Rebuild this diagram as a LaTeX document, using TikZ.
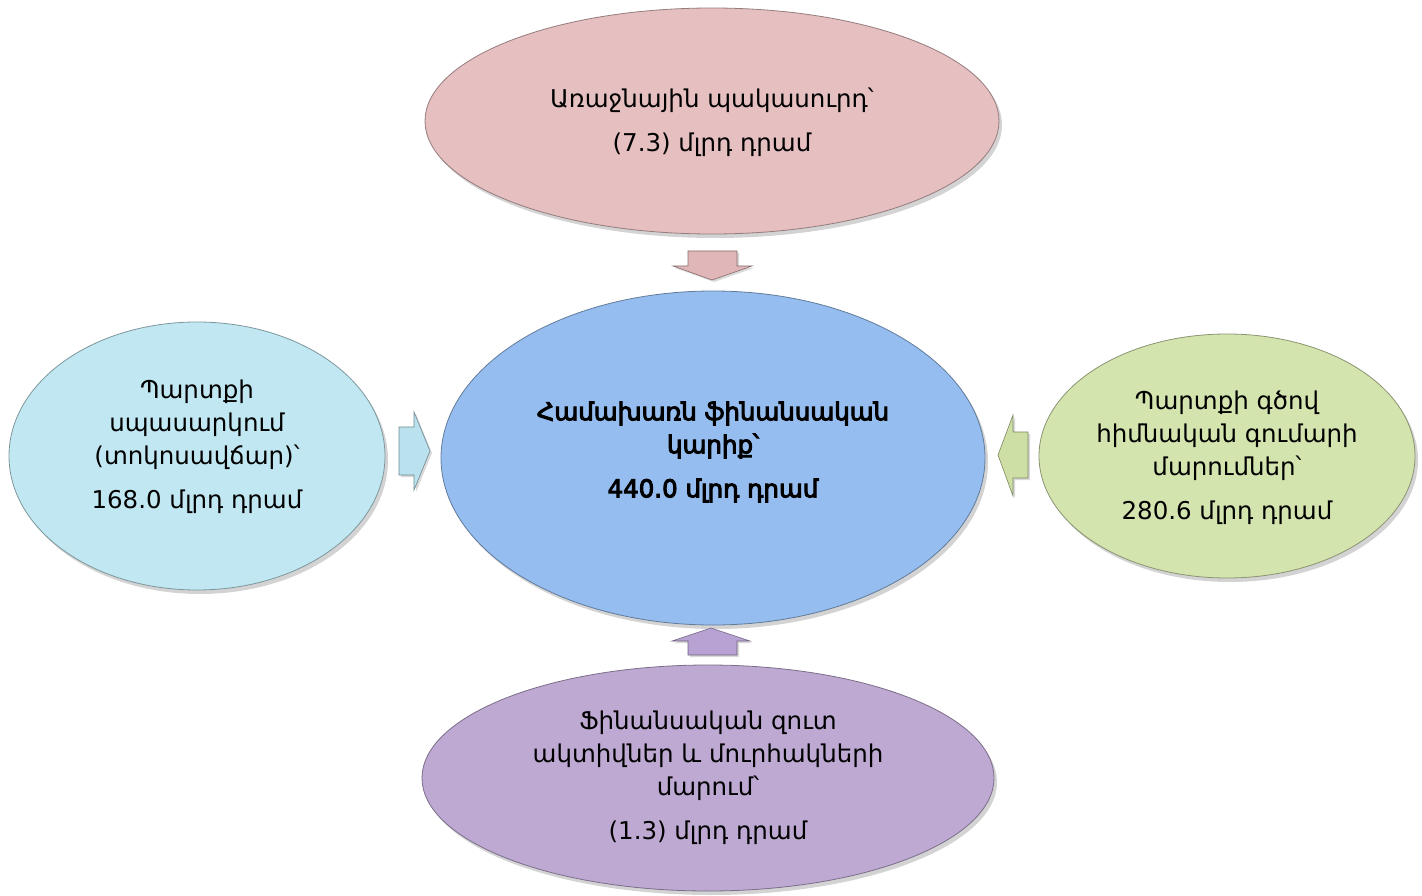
\documentclass[tikz,border=0pt]{standalone}
\usepackage{fontspec}
\setmainfont{DejaVu Sans}
\newfontfamily\armbold{DejaVu Sans}[FakeBold=4]
\usetikzlibrary{shapes.geometric,shadows}
\definecolor{cpink}{HTML}{E6BFC1}
\definecolor{cblue}{HTML}{96BDEF}
\definecolor{ccyan}{HTML}{C1E8F2}
\definecolor{cgreen}{HTML}{D4E4AE}
\definecolor{cviolet}{HTML}{BEA9D3}
\definecolor{apink}{HTML}{E0B6B8}
\definecolor{acyan}{HTML}{B9E2EE}
\definecolor{agreen}{HTML}{CDDFA4}
\definecolor{aviolet}{HTML}{B7A2D3}
\tikzset{
  blob/.style={ellipse, inner sep=0pt, fill=#1, draw=#1!65!black, line width=0.8pt,
    drop shadow={opacity=0.35, shadow xshift=3pt, shadow yshift=-4pt}},
  txt/.style={align=center, font=\fontsize{24.5}{33}\selectfont, text=black},
  blockarrow/.style={fill=#1, draw=#1!60!black, line width=0.6pt,
    drop shadow={opacity=0.3, shadow xshift=2pt, shadow yshift=-2pt}}
}
\begin{document}
\begin{tikzpicture}[x=1pt,y=-1pt]
\useasboundingbox (0,0) rectangle (1422,896);
% ellipses
\node[blob=cpink, minimum width=574pt, minimum height=226pt] (top) at (712,121) {};
\node[blob=cblue, minimum width=544pt, minimum height=334pt] (mid) at (713,458) {};
\node[blob=ccyan, minimum width=376pt, minimum height=268pt] (left) at (197,456) {};
\node[blob=cgreen, minimum width=376pt, minimum height=244pt] (right) at (1227,456) {};
\node[blob=cviolet, minimum width=572pt, minimum height=226pt] (bot) at (708,778) {};
% texts
\node[txt] (ttop) at (712,122) {Առաջնային պակասուրդ՝\\[11pt](7.3) մլրդ դրամ};
\node[txt, font=\fontsize{24.5}{33}\selectfont\armbold] (tmid) at (713,452) {Համախառն ֆինանսական\\կարիք՝\\[11pt]440.0 մլրդ դրամ};
\node[txt] (tleft) at (197,447) {Պարտքի\\սպասարկում\\(տոկոսավճար)՝\\[11pt]168.0 մլրդ դրամ};
\node[txt] (tright) at (1227,458) {Պարտքի գծով\\հիմնական գումարի\\մարումներ՝\\[11pt]280.6 մլրդ դրամ};
\node[txt] (tbot) at (708,778) {Ֆինանսական զուտ\\ակտիվներ և մուրհակների\\մարում՝\\[11pt](1.3) մլրդ դրամ};
% block arrows
\coordinate (atop) at (712,251);
\coordinate (aleft) at (399,451);
\coordinate (aright) at (1028,455);
\coordinate (abot) at (711,655);
\draw[blockarrow=apink] (atop) ++(-24,0) -- ++(49,0) -- ++(0,15) -- ++(15,0) -- ++(-40,14) -- ++(-39,-14) -- ++(15,0) -- cycle;
\draw[blockarrow=acyan] (aleft) ++(0,-24) -- ++(15,0) -- ++(0,-15) -- ++(16,39) -- ++(-16,39) -- ++(0,-15) -- ++(-15,0) -- cycle;
\draw[blockarrow=agreen] (aright) ++(0,-23) -- ++(-15,0) -- ++(0,-17) -- ++(-15,40) -- ++(15,41) -- ++(0,-18) -- ++(15,0) -- cycle;
\draw[blockarrow=aviolet] (abot) ++(-23,0) -- ++(49,0) -- ++(0,-14) -- ++(13,0) -- ++(-39,-13) -- ++(-39,13) -- ++(16,0) -- cycle;
\end{tikzpicture}
\end{document}
